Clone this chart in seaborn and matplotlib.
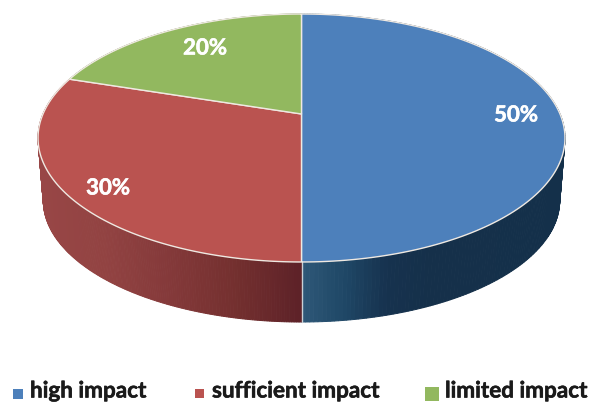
import numpy as np
import matplotlib
matplotlib.use("Agg")
import matplotlib.pyplot as plt
import matplotlib.patheffects as pe
from matplotlib.patches import Rectangle
from matplotlib.path import Path
from matplotlib.transforms import Transform
import seaborn as sns

categories = ["high impact", "sufficient impact", "limited impact"]
shares = [50, 30, 20]
top_colors = ["#4D80BB", "#BA5350", "#92B85F"]
side_ramps = [
    ["#2F5878", "#1F4766", "#16324E", "#15304A", "#15304A", "#14304A", "#14304A"],
    ["#5E2228", "#74302F", "#84393A", "#924342", "#984646"],
    ["#5F7A3A", "#6F8C45"],
]

sns.set_theme(style="white")
plt.rcParams["font.family"] = ["Lato", "DejaVu Sans"]

# Disc projection parameters, in pixels of the output canvas
CX, CY = 301.5, 114.0
A, B, K = 258.5, 119.35, 0.1935
DROP, SHRINK = 63.0, 0.98


class DiscTilt(Transform):
    """Perspective view of the unit circle lying on a table."""
    input_dims = output_dims = 2
    is_separable = False
    has_inverse = False

    def transform_non_affine(self, values):
        v = np.asarray(values, dtype=float)
        w = 1 + K * v[:, 1]
        return np.column_stack([CX + A * v[:, 0] / w, CY - B * v[:, 1] / w])

    def transform_path_non_affine(self, path):
        # Flatten curves first so the projection follows the arc closely
        steps = np.linspace(0, 1, 40)
        pieces = [seg(steps) for seg, code in path.iter_bezier()
                  if code != Path.MOVETO]
        return Path(self.transform_non_affine(np.vstack(pieces)))


tilt = DiscTilt()


def rim(theta):
    """Upper and lower rim points for clockwise angles measured from 12 o'clock."""
    upper = tilt.transform_non_affine(np.column_stack([np.sin(theta), np.cos(theta)]))
    lower = np.column_stack([
        CX + SHRINK * (upper[:, 0] - CX),
        CY + DROP + SHRINK * (upper[:, 1] - CY),
    ])
    return upper, lower


fig = plt.figure(figsize=(5.9, 4.03), dpi=100)
ax = fig.add_axes([0, 0, 1, 1])

# Side wall: thin shaded strips running from the centre outwards
edges = np.radians(np.cumsum([0] + shares) * 3.6)
for start, stop, ramp in zip(edges[:-1], edges[1:], side_ramps):
    palette = sns.blend_palette(ramp, 100)
    theta = np.linspace(start, stop, 241)
    upper, lower = rim(theta)
    for i in range(len(theta) - 1):
        spread = abs(upper[i, 0] - CX) / 264
        colour = palette[min(int(spread * 100), 99)]
        quad = np.vstack([upper[i], upper[i + 1], lower[i + 1], lower[i]])
        ax.fill(quad[:, 0], quad[:, 1], color=colour, lw=0.7, zorder=1)

# Seam on the wall where the first two slices meet
seam_up, seam_low = rim(np.array([edges[1]]))
ax.plot([seam_up[0, 0], seam_low[0, 0]], [seam_up[0, 1], seam_low[0, 1]],
        color="#C9D0D6", lw=1.0, zorder=2)

# Top face: an ordinary pie chart pushed through the perspective transform
wedges, _ = ax.pie(shares, colors=top_colors, startangle=90, counterclock=False,
                   wedgeprops={"edgecolor": "#EFE9E2", "linewidth": 1.0})
for wedge in wedges:
    wedge.set_transform(tilt + ax.transData)
    wedge.set_zorder(3)

ax.set_aspect("auto")
ax.set_xlim(0, 590)
ax.set_ylim(403, 0)
ax.axis("off")

# Percentage labels
for share, (x, y) in zip(shares, [(516, 115), (108, 188), (205, 48)]):
    ax.text(x, y, f"{share}%", color="white", fontsize=16, fontweight="bold",
            ha="center", va="center", zorder=4,
            path_effects=[pe.withStroke(linewidth=0.4, foreground="white")])

# Legend row along the bottom edge
key_boxes = [(13, 389, 9.5), (195, 389, 9), (425, 387, 14)]
text_x = [30, 212, 445]
for name, colour, (bx, by, size), tx in zip(categories, top_colors, key_boxes, text_x):
    ax.add_patch(Rectangle((bx, by), size, size, color=colour, lw=0, zorder=4))
    ax.text(tx, 397.5, name, color="#1A1A1A", fontsize=16.2, fontweight="bold",
            ha="left", va="baseline", zorder=4,
            path_effects=[pe.withStroke(linewidth=0.4, foreground="#1A1A1A")])

fig.savefig("out.png", dpi=100)
